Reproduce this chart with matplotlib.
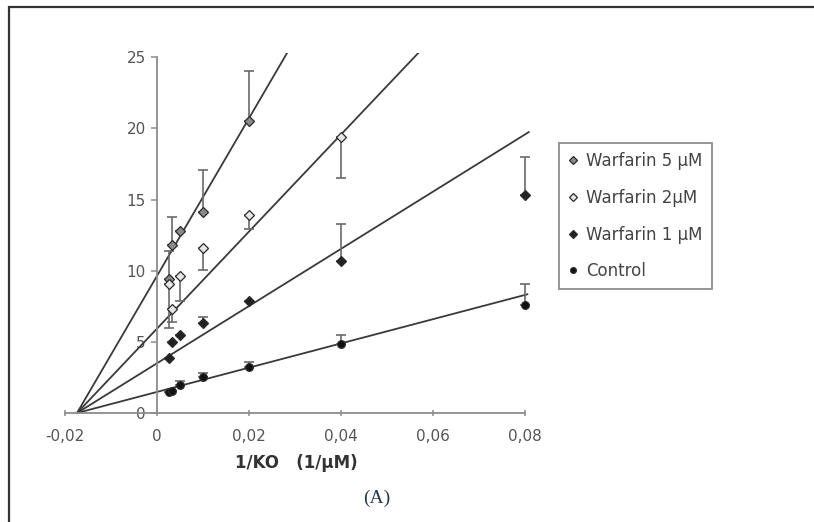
import matplotlib.pyplot as plt
import numpy as np
from matplotlib.patches import Rectangle

# data (Lineweaver-Burk style plot)
series_names = ["Warfarin 5 µM", "Warfarin 2µM", "Warfarin 1 µM", "Control"]

w5_x = [0.0025, 0.00333, 0.005, 0.01, 0.02]
w5_y = [9.4, 11.8, 12.8, 14.1, 20.5]
w5_lo = [0, 0, 0, 0, 0]
w5_hi = [2.0, 2.0, 0, 3.0, 3.5]

w2_x = [0.0025, 0.00333, 0.005, 0.01, 0.02, 0.04]
w2_y = [9.1, 7.3, 9.6, 11.6, 13.9, 19.4]
w2_lo = [3.1, 0.9, 1.7, 1.55, 1.0, 2.9]
w2_hi = [0, 0, 0, 0, 0, 0]

w1_x = [0.0025, 0.00333, 0.005, 0.01, 0.02, 0.04, 0.08]
w1_y = [3.9, 5.0, 5.5, 6.3, 7.9, 10.7, 15.3]
w1_lo = [0, 0, 0, 0, 0, 0, 0]
w1_hi = [0, 0, 0, 0.45, 0, 2.6, 2.7]

ctrl_x = [0.0025, 0.00333, 0.005, 0.01, 0.02, 0.04, 0.08]
ctrl_y = [1.5, 1.55, 1.95, 2.55, 3.25, 4.85, 7.6]
ctrl_lo = [0, 0, 0, 0, 0, 0, 0]
ctrl_hi = [0, 0, 0.3, 0.25, 0.35, 0.65, 1.5]

# fitted lines: common x intercept, slopes, and where each line stops
x_intercept = -0.0174
slopes = [554, 341, 201, 85.2]
line_end = [0.0282, 0.0568, 0.0808, 0.0805]

x_ticks = [-0.02, 0, 0.02, 0.04, 0.06, 0.08]
x_tick_labels = ["-0,02", "0", "0,02", "0,04", "0,06", "0,08"]
y_ticks = [0, 5, 10, 15, 20, 25]


def main():
    fig = plt.figure(figsize=(8.14, 5.22), dpi=100)
    fig.patch.set_facecolor("white")
    ax = fig.add_axes([0.0799, 0.2088, 0.5736, 0.6897])

    # regression lines
    for s, end in zip(slopes, line_end):
        xs = np.array([x_intercept, end])
        ax.plot(xs, s * (xs - x_intercept), color="#3a3a3a", lw=1.3, zorder=2)

    data = [
        (w5_x, w5_y, w5_lo, w5_hi, "D", "#8a8a8a"),
        (w2_x, w2_y, w2_lo, w2_hi, "D", "#e6e6e6"),
        (w1_x, w1_y, w1_lo, w1_hi, "D", "#222222"),
        (ctrl_x, ctrl_y, ctrl_lo, ctrl_hi, "o", "#111111"),
    ]
    for (xs, ys, lo, hi, mk, fc), name in zip(data, series_names):
        ax.errorbar(xs, ys, yerr=[lo, hi], fmt="none", ecolor="#6a6a6a",
                    elinewidth=1.2, capsize=3.5, capthick=1.2, zorder=3)
        ax.plot(xs, ys, linestyle="none", marker=mk, markersize=5.5,
                markerfacecolor=fc, markeredgecolor="#2a2a2a",
                markeredgewidth=0.9, label=name, zorder=4)

    ax.set_xlim(-0.02, 0.0815)
    ax.set_ylim(0, 25.3)

    for side in ["top", "right"]:
        ax.spines[side].set_visible(False)
    ax.spines["left"].set_position(("data", 0))
    ax.spines["left"].set_bounds(0, 25)
    ax.spines["bottom"].set_bounds(-0.02, 0.08)
    for side in ["left", "bottom"]:
        ax.spines[side].set_color("#8c8c8c")
        ax.spines[side].set_linewidth(1.3)

    ax.set_xticks(x_ticks)
    ax.set_xticklabels(x_tick_labels)
    ax.set_yticks(y_ticks)
    ax.tick_params(axis="x", direction="inout", length=5, width=1.1,
                   color="#8c8c8c", pad=9, labelsize=11, labelcolor="#555555")
    ax.tick_params(axis="y", direction="out", length=4, width=1.1,
                   color="#8c8c8c", pad=4, labelsize=11, labelcolor="#555555")
    ax.patch.set_visible(False)

    fig.text(296 / 814, 1 - 463 / 522, "1/KO   (1/µM)", ha="center", va="center",
             fontsize=12, fontweight="bold", color="#333333")
    fig.text(377 / 814, 1 - 498 / 522, "(A)", ha="center", va="center",
             fontsize=14, family="Liberation Serif", color="#2b3a4a")

    handles, labels = ax.get_legend_handles_labels()
    leg = fig.legend(handles, labels, loc="upper left",
                     bbox_to_anchor=(559 / 814, 1 - 143 / 522),
                     borderaxespad=0, fontsize=12, labelspacing=1.12,
                     borderpad=0.55, handlelength=0.6, handletextpad=0.5,
                     markerscale=0.75, fancybox=False, framealpha=1)
    leg.get_frame().set_edgecolor("#8c8c8c")
    leg.get_frame().set_linewidth(1.3)
    for t in leg.get_texts():
        t.set_color("#444444")

    # outer frame of the figure panel
    fig.add_artist(Rectangle((9 / 814, -0.1), 1.2, 1.1 - 7 / 522,
                             transform=fig.transFigure, fill=False,
                             edgecolor="#333333", linewidth=1.6))

    fig.savefig("out.png", dpi=100)
    plt.close()


main()
